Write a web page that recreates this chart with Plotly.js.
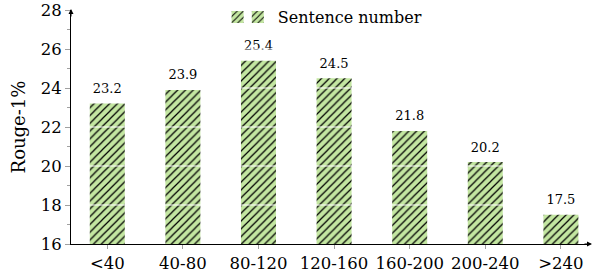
<!DOCTYPE html>
<html>
<head>
<meta charset="utf-8">
<script src="https://cdn.plot.ly/plotly-3.0.1.min.js"></script>
<style>
  html, body { margin: 0; padding: 0; background: #fff; }
  #chart { width: 593px; height: 280px; }
</style>
</head>
<body>
<div id="chart"></div>
<script>
// ---- data ----
const categories = ["<40", "40-80", "80-120", "120-160", "160-200", "200-240", ">240"];
const rouge1 = [23.2, 23.9, 25.4, 24.5, 21.8, 20.2, 17.5];
const seriesName = "Sentence number";
const yTickVals = [16, 18, 20, 22, 24, 26, 28];
const yTitle = "Rouge-1%";

// ---- style ----
const FONT = "DejaVu Serif, serif";
const GREEN = "#c3e6a1";
const TICKGRAY = "#a0a0a0";
const pattern = { shape: "/", fgcolor: "#000000", bgcolor: GREEN, size: 5.5, solidity: 0.22, fillmode: "replace" };
const XR = [-0.48, 6.372];
const YR = [16, 28];

const traces = [
  {
    type: "bar",
    x: categories,
    y: rouge1,
    name: seriesName,
    width: 0.463,
    marker: { color: GREEN, line: { width: 0 }, pattern: pattern },
    legend: "legend",
    hoverinfo: "skip"
  },
  {
    type: "bar",
    x: categories,
    y: categories.map(() => null),
    name: "",
    width: 0.463,
    marker: { color: GREEN, line: { width: 0 }, pattern: pattern },
    legend: "legend2",
    hoverinfo: "skip"
  },
  {
    type: "scatter",
    mode: "markers+text",
    x: categories,
    y: rouge1,
    text: rouge1.map(v => v.toFixed(1)),
    textposition: "top center",
    textfont: { family: FONT, size: 13, color: "#000" },
    marker: { size: 10, color: "rgba(0,0,0,0)" },
    showlegend: false,
    hoverinfo: "skip"
  }
];

const shapes = yTickVals.filter(v => v > YR[0] && v < YR[1]).map(v => ({
  type: "line", layer: "above", xref: "paper", x0: 0.03, x1: 1, yref: "y", y0: v, y1: v,
  line: { color: "#ffffff", width: 1 }
}));

const layout = {
  width: 593, height: 280,
  margin: { l: 71, r: 4, t: 9.5, b: 36, autoexpand: false },
  paper_bgcolor: "#fff", plot_bgcolor: "#fff",
  barmode: "overlay",
  font: { family: FONT, color: "#000" },
  xaxis: {
    type: "category", range: XR, showgrid: false, zeroline: false,
    showline: true, linecolor: "#000", linewidth: 1,
    ticks: "outside", ticklen: 4, tickcolor: TICKGRAY, tickwidth: 1,
    tickfont: { family: FONT, size: 16.5, color: "#000" }, fixedrange: true
  },
  xaxis2: {
    overlaying: "x", anchor: "y", side: "bottom", range: XR, type: "linear",
    tickmode: "array", tickvals: categories.map((c, i) => i),
    ticks: "inside", ticklen: 5, tickcolor: TICKGRAY, tickwidth: 1,
    showticklabels: false, showgrid: false, zeroline: false, showline: false,
    layer: "above traces"
  },
  yaxis: {
    range: YR, tickmode: "array", tickvals: yTickVals, showgrid: false, zeroline: false,
    showline: true, linecolor: "#000", linewidth: 1,
    ticks: "outside", ticklen: 5, tickcolor: TICKGRAY, tickwidth: 1,
    minor: { dtick: 1, ticks: "outside", ticklen: 3, tickcolor: TICKGRAY, showgrid: false },
    tickfont: { family: FONT, size: 16.5, color: "#000" },
    ticklabeloverflow: "allow",
    title: { text: yTitle, font: { family: FONT, size: 18, color: "#000" }, standoff: 10 },
    layer: "above traces"
  },
  yaxis2: {
    overlaying: "y", anchor: "x", side: "left", range: YR,
    tickmode: "array", tickvals: yTickVals,
    ticks: "inside", ticklen: 5, tickcolor: TICKGRAY, tickwidth: 1,
    minor: { dtick: 1, ticks: "inside", ticklen: 3, tickcolor: TICKGRAY, showgrid: false },
    showticklabels: false, showgrid: false, zeroline: false, showline: false,
    layer: "above traces"
  },
  legend: {
    x: 0.322, xanchor: "left", y: 1, yref: "container", yanchor: "top",
    orientation: "h", bgcolor: "rgba(0,0,0,0)", borderwidth: 0,
    font: { family: FONT, size: 16, color: "#000" }
  },
  legend2: {
    x: 0.283, xanchor: "left", y: 1, yref: "container", yanchor: "top",
    orientation: "h", bgcolor: "rgba(0,0,0,0)", borderwidth: 0,
    font: { family: FONT, size: 16, color: "#000" }
  },
  shapes: shapes,
  annotations: [
    { xref: "paper", yref: "paper", x: 0, y: 1, ax: 0, ay: 9, axref: "pixel", ayref: "pixel",
      showarrow: true, arrowhead: 2, arrowsize: 1, arrowwidth: 1, arrowcolor: "#000", text: "", standoff: 0, yshift: 1 },
    { xref: "paper", yref: "paper", x: 1, y: 0, ax: -9, ay: 0, axref: "pixel", ayref: "pixel",
      showarrow: true, arrowhead: 2, arrowsize: 1, arrowwidth: 1, arrowcolor: "#000", text: "", standoff: 0, xshift: 3 }
  ]
};

Plotly.newPlot("chart", traces, layout, { displayModeBar: false, staticPlot: true });
</script>
</body>
</html>
